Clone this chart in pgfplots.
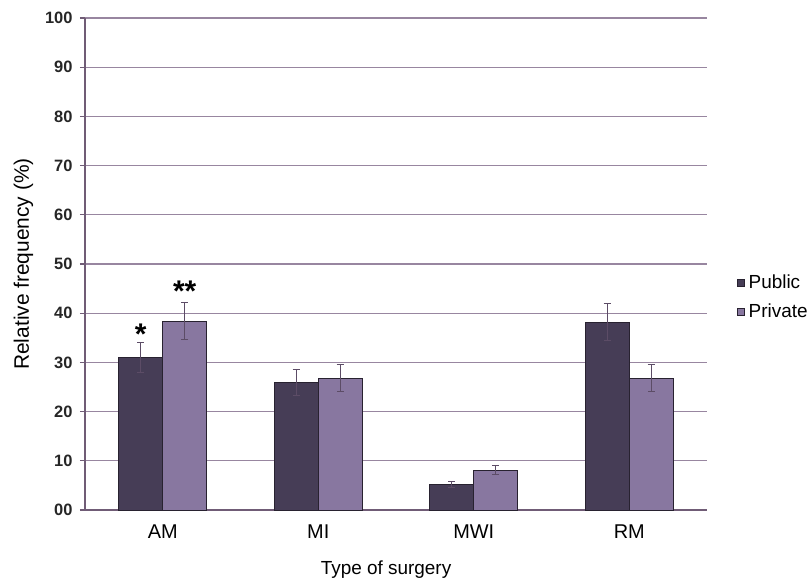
\documentclass[border=0pt]{standalone}
\usepackage{fontspec}
\setmainfont{Liberation Sans}
\usepackage{pgfplots}
\pgfplotsset{compat=1.18}

\definecolor{pubc}{RGB}{70,61,86}
\definecolor{pric}{RGB}{136,119,160}
\definecolor{gridc}{RGB}{152,134,160}
\definecolor{axisc}{RGB}{112,92,118}
\definecolor{errc}{RGB}{92,76,102}
\definecolor{edgec}{RGB}{40,34,48}

\begin{document}
\begin{tikzpicture}
\path[use as bounding box] (0bp,0bp) rectangle (808bp,583bp);
\begin{axis}[
  at={(85bp,73bp)}, anchor=south west,
  scale only axis, width=622bp, height=492bp,
  xmin=-0.5, xmax=3.5, ymin=0, ymax=100,
  axis x line=bottom, axis y line=left,
  axis line style={-, axisc, line width=1.3bp},
  ytick={0,10,...,100},
  yticklabels={00,10,20,30,40,50,60,70,80,90,100},
  xtick={0,1,2,3},
  xticklabels={AM,MI,MWI,RM},
  ymajorgrids,
  major grid style={gridc, line width=1.3bp},
  tick align=outside, major tick length=5bp,
  ytick style={axisc, line width=1.3bp},
  xtick style={draw=none},
  yticklabel style={font=\fontsize{16.5}{16.5}\selectfont\bfseries, text=black!85, xshift=-4bp},
  xticklabel style={font=\fontsize{20}{20}\selectfont, yshift=-6bp},
  xlabel={Type of surgery},
  ylabel={Relative frequency (\%)},
  xlabel style={font=\fontsize{19}{19}\selectfont, at={(0.484,-0.122)}, anchor=center},
  ylabel style={font=\fontsize{21}{21}\selectfont, at={(-0.099,0.5)}, anchor=center},
  ybar, bar width=0.283,
  legend style={at={(1.048,0.433)}, anchor=west, draw=none, fill=none,
    font=\fontsize{19}{19}\selectfont, row sep=10bp, inner xsep=0pt,
    cells={anchor=west}},
  legend image code/.code={\draw[#1, draw=edgec, line width=0.6bp] (0bp,-3.5bp) rectangle (7bp,3.5bp);},
  clip=false,
]
% Public hospitals
\addplot[fill=pubc, draw=edgec, line width=0.8bp, bar shift=-0.1415,
  error bars/.cd, y dir=both, y explicit,
  error bar style={errc, line width=1bp},
  error mark options={rotate=90, mark size=3.6bp, errc, line width=1bp}]
  coordinates {(0,31.0) +- (0,3.1) (1,25.9) +- (0,2.6) (2,5.2) +- (0,0.6) (3,38.2) +- (0,3.8)};
\addlegendentry{\hspace{2bp}Public}
% Private hospitals
\addplot[fill=pric, draw=edgec, line width=0.8bp, bar shift=0.1415,
  error bars/.cd, y dir=both, y explicit,
  error bar style={errc, line width=1bp},
  error mark options={rotate=90, mark size=3.6bp, errc, line width=1bp}]
  coordinates {(0,38.4) +- (0,3.8) (1,26.8) +- (0,2.7) (2,8.1) +- (0,0.85) (3,26.8) +- (0,2.7)};
\addlegendentry{\hspace{2bp}Private}
% significance markers
\node[font=\fontsize{30}{30}\selectfont\bfseries, anchor=base] at (axis cs:-0.1415,33.7) {*};
\node[font=\fontsize{30}{30}\selectfont\bfseries, anchor=base, inner xsep=0pt] at (axis cs:0.1415,42.3) {**};
\end{axis}
\end{tikzpicture}
\end{document}
